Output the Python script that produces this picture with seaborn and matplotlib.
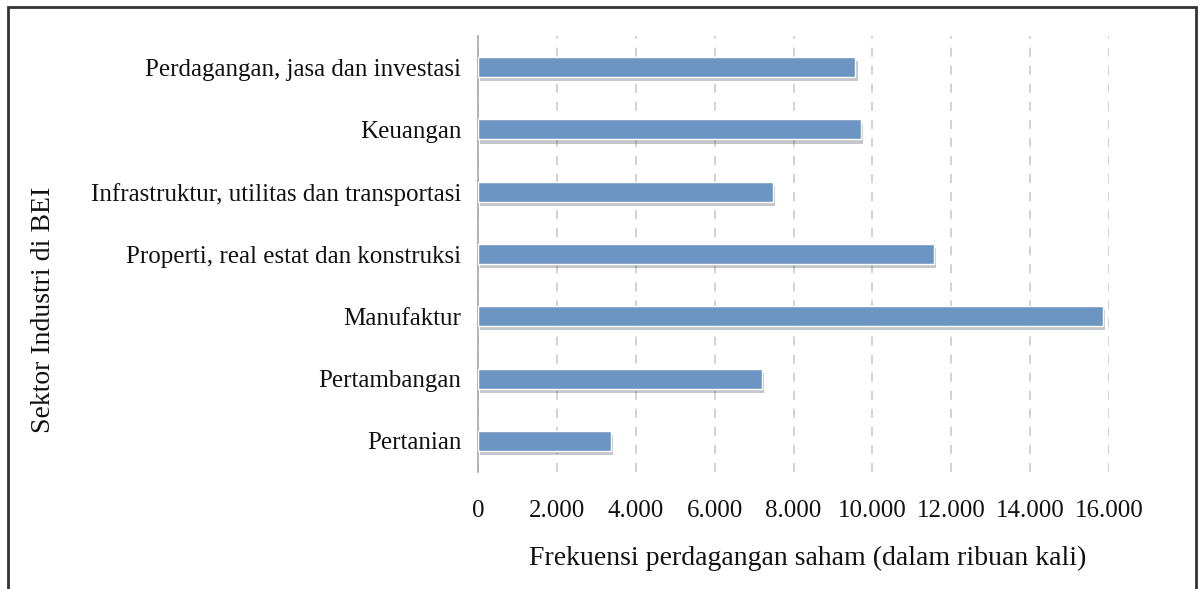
import matplotlib
matplotlib.use("Agg")
import matplotlib.pyplot as plt
import matplotlib.patheffects as pe
from matplotlib.patches import Rectangle
from matplotlib.ticker import FuncFormatter
import seaborn as sns
import pandas as pd

categories = [
    "Perdagangan, jasa dan investasi",
    "Keuangan",
    "Infrastruktur, utilitas dan transportasi",
    "Properti, real estat dan konstruksi",
    "Manufaktur",
    "Pertambangan",
    "Pertanian",
]
values = [9570, 9720, 7490, 11560, 15850, 7210, 3360]
x_ticks = [0, 2000, 4000, 6000, 8000, 10000, 12000, 14000, 16000]

df = pd.DataFrame({"sektor": categories, "frekuensi": values})

sns.set_theme(style="white")
plt.rcParams["font.family"] = ["Liberation Serif", "DejaVu Serif"]

fig = plt.figure(figsize=(12.02, 5.89), dpi=100)
ax = fig.add_axes([478 / 1202, 1 - 472 / 589, (1109 - 478) / 1202, (472 - 36) / 589])

sns.barplot(data=df, x="frekuensi", y="sektor", order=categories,
            color="#6d95c3", saturation=1, width=0.32, ax=ax, zorder=3)

for p in ax.patches:
    p.set_path_effects([pe.SimplePatchShadow(offset=(1.5, -3), alpha=0.3, shadow_rgbFace="#3a4550"),
                        pe.Normal()])

ax.set_xlim(0, 16000)
ax.set_ylim(6.5, -0.5)
ax.set_xticks(x_ticks)
ax.xaxis.set_major_formatter(FuncFormatter(lambda v, _: f"{int(v):,}".replace(",", ".")))
ax.tick_params(axis="x", length=0, labelsize=18, pad=20, colors="#111111")
ax.tick_params(axis="y", length=0, labelsize=18, pad=12, colors="#111111")

for s in ["top", "right", "bottom"]:
    ax.spines[s].set_visible(False)
ax.spines["left"].set_color("#a8a8a8")
ax.spines["left"].set_linewidth(1.2)

ax.xaxis.grid(True, linestyle=(0, (5, 5)), color="#cfcfcf", linewidth=1.3, zorder=0)
ax.yaxis.grid(False)
ax.set_axisbelow(True)

ax.set_xlabel("")
ax.set_ylabel("")
fig.text(808 / 1202, 1 - 558 / 589, "Frekuensi perdagangan saham (dalam ribuan kali)",
         ha="center", va="center", fontsize=20, color="#111111")
fig.text(44 / 1202, 1 - 310 / 589, "Sektor Industri di BEI", rotation=90,
         ha="center", va="center", fontsize=20, color="#111111")

# outer frame
fig.patches.append(Rectangle((8 / 1202, -0.05), (1196 - 8) / 1202, 1.05 - 7 / 589,
                             transform=fig.transFigure, fill=False,
                             edgecolor="#333333", linewidth=2))

fig.savefig("out.png", dpi=100, facecolor="white")
